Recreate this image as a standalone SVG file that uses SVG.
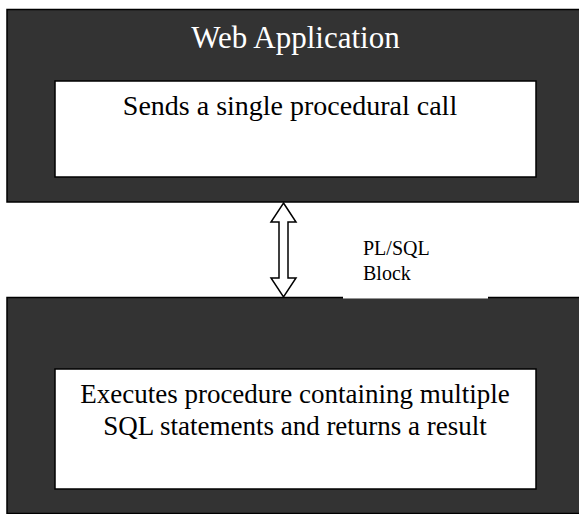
<svg xmlns="http://www.w3.org/2000/svg" width="579" height="514" viewBox="0 0 579 514">
<style>
.outer{fill:#333333;stroke:#000;stroke-width:1.5}
.inner{fill:#fff;stroke:#000;stroke-width:1.5}
.t{font-family:"Liberation Serif","Times New Roman",serif;text-anchor:middle}
.title{fill:#fff;font-size:31px}
.body{fill:#000;font-size:27px}
.body2{fill:#000;font-size:28px}
.lbl{font-family:"Liberation Serif","Times New Roman",serif;fill:#000;font-size:20px}
.arrow{fill:#fff;stroke:#000;stroke-width:1.5;stroke-linejoin:miter}
</style>
<rect width="579" height="514" fill="#fff"/>
<g id="web-application">
<rect class="outer" x="7" y="9.5" width="575" height="192.5"/>
<text class="t title" x="295.5" y="48">Web Application</text>
<rect class="inner" x="55" y="81" width="481" height="96"/>
<text class="t body2" x="290" y="115">Sends a single procedural call</text>
</g>
<g id="database">
<rect class="outer" x="7" y="297.5" width="575" height="216"/>
<rect class="inner" x="55" y="369" width="481" height="120"/>
<text class="t body" x="295" y="403">Executes procedure containing multiple</text>
<text class="t body" x="295" y="435">SQL statements and returns a result</text>
</g>
<g id="connectors">
<polygon class="arrow" points="283.5,203 296,222 288,222 288,278 296,278 283.5,297 271,278 279,278 279,222 271,222"/>
</g>
<g id="label">
<rect x="343" y="215" width="145" height="83.5" fill="#fff"/>
<text class="lbl" x="363" y="255">PL/SQL</text>
<text class="lbl" x="363" y="280">Block</text>
</g>
</svg>
